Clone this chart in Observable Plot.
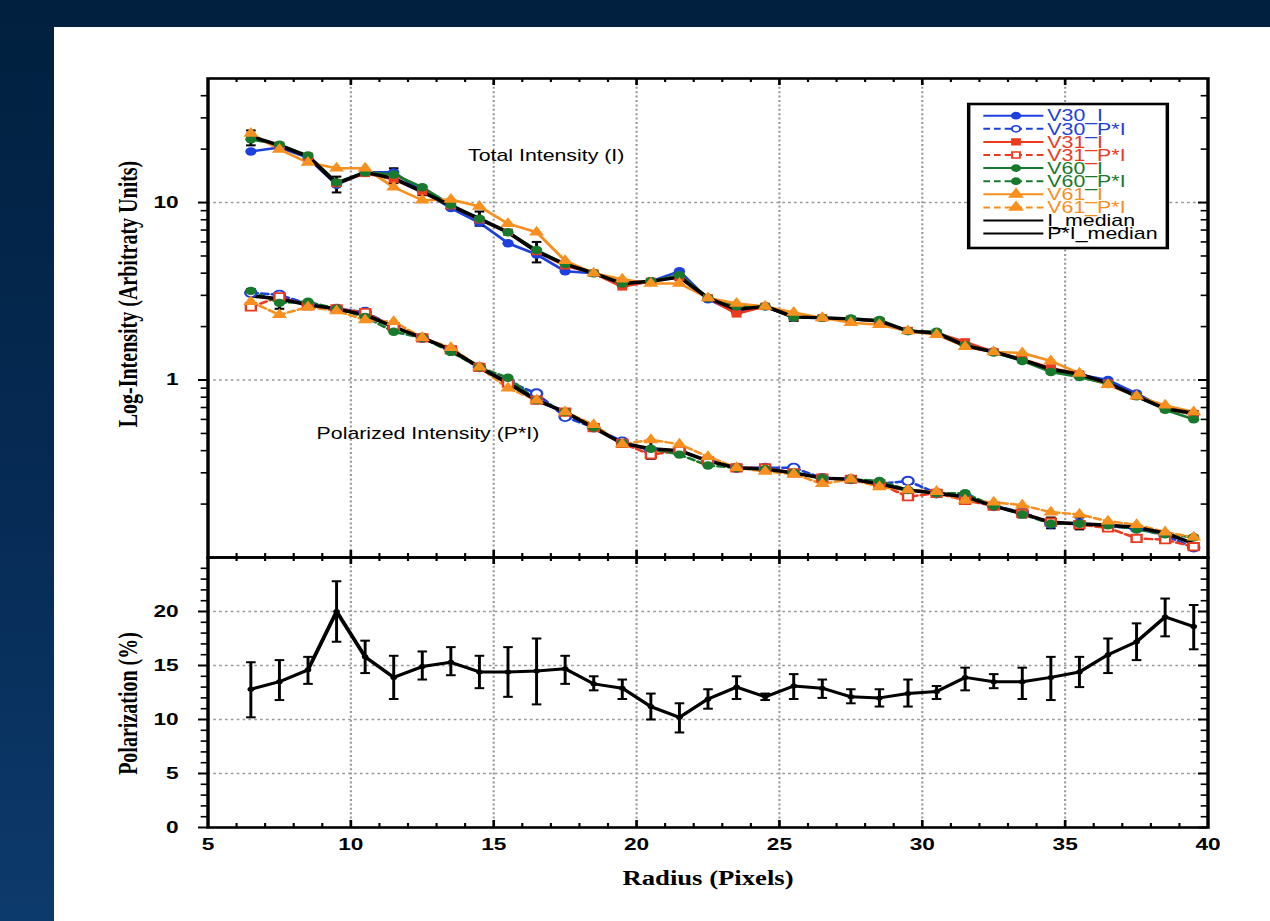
<!DOCTYPE html>
<html><head><meta charset="utf-8">
<script src="https://cdn.jsdelivr.net/npm/d3@7"></script>
<script src="https://cdn.jsdelivr.net/npm/@observablehq/plot@0.6"></script>
<style>
html,body{margin:0;padding:0;}
body{width:1270px;height:921px;overflow:hidden;position:relative;
  background:linear-gradient(180deg,#01203f 0%,#062b55 55%,#0d3a6c 100%);
  font-family:"Liberation Sans",Arial,sans-serif;}
#panel{position:absolute;left:54px;top:27px;width:1216px;height:894px;background:#fff;}
#stage{position:absolute;left:54px;top:27px;width:912px;height:894px;transform:scaleX(1.3333333);transform-origin:0 0;}
#top,#bottom{position:absolute;left:0;}
#top{top:0px;}
#bottom{top:528px;}
#legend{position:absolute;left:680px;top:70px;}
</style></head><body>
<div id="panel"></div>
<div id="stage"><div id="top"></div><div id="bottom"></div><svg id="legend"></svg></div>
<script>
// ---------------- DATA ----------------
const radius = [6.5,7.5,8.5,9.5,10.5,11.5,12.5,13.5,14.5,15.5,16.5,17.5,18.5,19.5,20.5,21.5,22.5,23.5,24.5,25.5,26.5,27.5,28.5,29.5,30.5,31.5,32.5,33.5,34.5,35.5,36.5,37.5,38.5,39.5];

const V30_I  = [19.4,20.4,17.9,12.6,14.8,14.8,11.6,9.3,7.7,5.9,5.1,4.1,4.0,3.4,3.6,4.1,2.85,2.4,2.6,2.24,2.24,2.2,2.15,1.89,1.84,1.58,1.45,1.30,1.14,1.07,1.0,0.84,0.69,0.64];
const V31_I  = [23.6,21.0,18.2,12.8,14.6,13.5,11.5,9.6,8.0,6.8,5.3,4.4,4.0,3.35,3.6,3.8,2.9,2.36,2.6,2.25,2.24,2.2,2.15,1.9,1.84,1.64,1.44,1.31,1.17,1.08,0.96,0.81,0.69,0.64];
const V60_I  = [22.7,21.2,18.4,13.0,14.8,14.4,12.2,9.7,8.1,6.8,5.4,4.5,4.0,3.5,3.6,3.9,2.9,2.6,2.6,2.25,2.24,2.22,2.18,1.89,1.87,1.57,1.43,1.28,1.11,1.04,0.95,0.81,0.68,0.60];
const V61_I  = [24.5,19.9,16.8,15.6,15.6,12.2,10.3,10.4,9.5,7.6,6.8,4.7,4.0,3.7,3.5,3.5,2.9,2.7,2.6,2.4,2.24,2.1,2.05,1.89,1.8,1.54,1.44,1.42,1.28,1.09,0.94,0.81,0.72,0.66];
const I_median = [23.6,21.0,18.2,12.8,14.8,13.7,11.5,9.6,8.1,6.8,5.3,4.5,4.0,3.5,3.6,3.8,2.9,2.5,2.6,2.27,2.24,2.21,2.15,1.89,1.84,1.56,1.44,1.30,1.15,1.08,0.96,0.81,0.69,0.65];
const I_err_lo = [21,null,null,11.4,null,12.9,11.0,null,7.4,null,4.6,null,null,null,null,3.65,null,2.4,null,2.15,null,null,2.08,null,null,null,null,1.26,1.12,null,null,null,0.67,0.62];
const I_err_hi = [25.5,null,null,14.0,null,15.6,12.4,null,8.9,null,6.0,null,null,null,null,4.0,null,2.6,null,2.36,null,null,2.22,null,null,null,null,1.34,1.19,null,null,null,0.71,0.67];

const V30_PI = [3.1,3.02,2.68,2.52,2.42,1.99,1.73,1.48,1.18,0.98,0.84,0.62,0.54,0.45,0.40,0.40,0.35,0.32,0.32,0.32,0.28,0.276,0.26,0.27,0.23,0.22,0.195,0.18,0.155,0.155,0.15,0.146,0.133,0.114];
const V31_PI = [2.58,2.94,2.62,2.52,2.40,1.99,1.73,1.48,1.18,0.96,0.77,0.66,0.54,0.44,0.38,0.40,0.35,0.32,0.32,0.30,0.28,0.276,0.26,0.22,0.23,0.21,0.195,0.177,0.158,0.153,0.147,0.128,0.126,0.115];
const V60_PI = [3.18,2.72,2.76,2.52,2.27,1.87,1.73,1.44,1.18,1.03,0.77,0.66,0.54,0.44,0.41,0.38,0.33,0.32,0.315,0.30,0.28,0.276,0.27,0.24,0.23,0.23,0.195,0.175,0.155,0.155,0.152,0.144,0.135,0.13];
const V61_PI = [2.76,2.33,2.58,2.45,2.18,2.13,1.73,1.52,1.18,0.90,0.77,0.66,0.56,0.435,0.46,0.435,0.37,0.32,0.305,0.295,0.26,0.276,0.25,0.24,0.235,0.21,0.205,0.197,0.18,0.175,0.16,0.153,0.139,0.13];
const PI_median = [2.98,2.87,2.65,2.52,2.33,1.99,1.73,1.48,1.18,0.96,0.77,0.66,0.54,0.44,0.41,0.40,0.35,0.32,0.315,0.30,0.28,0.276,0.26,0.24,0.23,0.22,0.195,0.177,0.158,0.155,0.152,0.148,0.137,0.12];
const PI_err_lo = [2.65,2.52,null,null,null,null,null,null,null,null,null,null,null,null,0.36,0.38,null,null,null,null,null,null,null,0.22,null,null,null,0.168,0.146,0.144,null,null,null,null];
const PI_err_hi = [3.26,3.1,null,null,null,null,null,null,null,null,null,null,null,null,0.45,0.42,null,null,null,null,null,null,null,0.26,null,null,null,0.186,0.168,0.168,null,null,null,null];

const polarization = [12.8,13.5,14.6,20.0,15.8,13.9,14.9,15.3,14.4,14.4,14.5,14.7,13.3,12.9,11.2,10.2,11.9,13.0,12.1,13.1,12.9,12.1,12.0,12.4,12.6,13.9,13.5,13.5,13.9,14.4,16.0,17.2,19.5,18.6];
const pol_hi = [15.3,15.5,15.8,22.8,17.3,15.9,16.3,16.7,15.9,16.7,17.5,15.9,14.0,13.7,12.4,11.5,12.8,14.0,12.4,14.2,13.7,12.8,12.8,13.7,13.1,14.8,14.2,14.8,15.8,15.8,17.5,18.9,21.2,20.6];
const pol_lo = [10.2,11.8,13.3,17.2,14.3,11.9,13.7,14.1,12.9,12.1,11.4,13.3,12.7,11.9,10.0,8.8,11.0,11.9,11.8,11.9,12.0,11.5,11.2,11.2,11.9,12.7,12.9,11.9,11.8,13.0,14.3,15.5,17.7,16.5];

const xTickLabels = [5,10,15,20,25,30,35,40];
const topYTickLabels = [1,10];
const polYTickLabels = [0,5,10,15,20];
const legendNames = ["V30_I","V30_P*I","V31_I","V31_P*I","V60_I","V60_P*I","V61_I","V61_P*I","I_median","P*I_median"];
const annotations = [
  {text:"Total Intensity (I)", x:14.1, y:18.3},
  {text:"Polarized Intensity (P*I)", x:8.8, y:0.5}
];
const yTitleTop = "Log-Intensity (Arbitraty Units)";
const yTitleBottom = "Polarization (%)";
const xTitle = "Radius (Pixels)";

// ---------------- STYLES ----------------
const blue="#1e40dc", red="#ec3a1f", green="#187a2c", orange="#f7901f";
const series = [
  {values:V30_I,  color:blue,   dash:null,  symbol:"circle",   open:false},
  {values:V30_PI, color:blue,   dash:"5,3", symbol:"circle",   open:true},
  {values:V31_I,  color:red,    dash:null,  symbol:"square",   open:false},
  {values:V31_PI, color:red,    dash:"5,3", symbol:"square",   open:true},
  {values:V60_I,  color:green,  dash:null,  symbol:"circle",   open:false},
  {values:V60_PI, color:green,  dash:"5,3", symbol:"circle",   open:false},
  {values:V61_I,  color:orange, dash:null,  symbol:"triangle", open:false},
  {values:V61_PI, color:orange, dash:"5,3", symbol:"triangle", open:false}
];
const sans = "'Liberation Sans', Arial, Helvetica, sans-serif";
const serif = "'Liberation Serif', 'Times New Roman', serif";
const W = 912, ML = 115, MR = 47, FW = W - ML - MR;
const gridStyle = {stroke:"#999", strokeOpacity:1, strokeWidth:1.6, strokeDasharray:"2,2.4"};
const svgStyle = `overflow: visible; background: transparent; max-width: none; font-family: ${sans}; color: black;`;

const rowsOf = vals => radius.map((r,i) => ({r, v: vals[i]}));
const errRows = (lo, hi) => radius.map((r,i) => ({r, lo: lo[i], hi: hi[i]})).filter(d => d.lo != null && d.hi != null);
const capSymbol = {draw(ctx, size){ const w = Math.sqrt(size/Math.PI); ctx.moveTo(-w,0); ctx.lineTo(w,0); }};

const xMinor = d3.range(6, 40).filter(d => d % 5 !== 0);
const xInner = xTickLabels.filter(d => d > 5 && d < 40);
const topMinor = [];
[0.1,1,10].forEach(dec => d3.range(2,10).forEach(m => { const v = m*dec; if (v < 50) topMinor.push(+v.toPrecision(3)); }));
const polMinor = d3.range(1, 26).filter(d => d % 5 !== 0);

function errorMarks(lo, hi) {
  const rows = errRows(lo, hi);
  return [
    Plot.ruleX(rows, {x:"r", y1:"lo", y2:"hi", stroke:"black", strokeWidth:2.2}),
    Plot.dot(rows, {x:"r", y:"lo", symbol:capSymbol, r:3.6, fill:"none", stroke:"black", strokeWidth:2}),
    Plot.dot(rows, {x:"r", y:"hi", symbol:capSymbol, r:3.6, fill:"none", stroke:"black", strokeWidth:2})
  ];
}

// ---------------- TOP PANEL ----------------
const topFH = 479;
const topPlot = Plot.plot({
  width: W, height: 530, marginLeft: ML, marginRight: MR, marginTop: 51, marginBottom: 0,
  style: svgStyle,
  x: {domain: [5, 40], axis: null},
  y: {type: "log", domain: [0.1, 50]},
  marks: [
    Plot.gridX(xInner, gridStyle),
    Plot.gridY(topYTickLabels, gridStyle),
    ...series.map(s => Plot.line(rowsOf(s.values), {x:"r", y:"v", stroke:s.color, strokeWidth:2.5, ...(s.dash ? {strokeDasharray:s.dash} : {})})),
    Plot.line(rowsOf(I_median), {x:"r", y:"v", stroke:"black", strokeWidth:3.4}),
    Plot.line(rowsOf(PI_median), {x:"r", y:"v", stroke:"black", strokeWidth:3.4}),
    ...errorMarks(I_err_lo, I_err_hi),
    ...errorMarks(PI_err_lo, PI_err_hi),
    ...series.map(s => Plot.dot(rowsOf(s.values), {x:"r", y:"v", symbol:s.symbol, r:4.2,
        fill: s.open ? "white" : s.color, stroke: s.open ? s.color : "none", strokeWidth: 1.8})),
    Plot.text(annotations, {x:"x", y:"y", text:"text", textAnchor:"start", lineAnchor:"middle", fontSize:16, fontFamily:sans, fill:"black"}),
    Plot.frame({stroke:"black", strokeWidth:2.6}),
    Plot.axisY(topYTickLabels, {anchor:"left", tickSize:7, tickPadding:15, strokeWidth:2, fontSize:17, fontWeight:"bold", fontFamily:sans, tickFormat:d => String(d), label:null}),
    Plot.axisY(topMinor, {anchor:"left", tickSize:5, strokeWidth:1.6, fill:"none", label:null}),
    Plot.tickY(topYTickLabels, {y:d => d, insetLeft:FW-7, strokeWidth:2}),
    Plot.tickY(topMinor, {y:d => d, insetLeft:FW-5, strokeWidth:1.6}),
    Plot.tickX(xInner, {x:d => d, insetBottom:topFH-7, strokeWidth:2}),
    Plot.tickX(xMinor, {x:d => d, insetBottom:topFH-4, strokeWidth:1.6}),
    Plot.tickX(xInner, {x:d => d, insetTop:topFH-7, strokeWidth:2}),
    Plot.tickX(xMinor, {x:d => d, insetTop:topFH-4, strokeWidth:1.6}),
    Plot.text([yTitleTop], {frameAnchor:"left", text:d => d, rotate:-90, textAnchor:"middle", lineAnchor:"middle", dx:-60, dy:-24, fontSize:20, fontWeight:"bold", fontFamily:serif, fill:"black"})
  ]
});
document.getElementById("top").appendChild(topPlot);

// ---------------- BOTTOM PANEL ----------------
const botFH = 270;
const polRows = radius.map((r,i) => ({r, v: polarization[i]}));
const botPlot = Plot.plot({
  width: W, height: 366, marginLeft: ML, marginRight: MR, marginTop: 2, marginBottom: 94,
  style: svgStyle,
  x: {domain: [5, 40]},
  y: {domain: [0, 25]},
  marks: [
    Plot.gridX(xInner, gridStyle),
    Plot.gridY(polYTickLabels.filter(d => d > 0), gridStyle),
    ...errorMarks(pol_lo, pol_hi),
    Plot.line(polRows, {x:"r", y:"v", stroke:"black", strokeWidth:3}),
    Plot.dot(polRows, {x:"r", y:"v", r:2.5, fill:"black"}),
    Plot.frame({stroke:"black", strokeWidth:2.6}),
    Plot.axisY(polYTickLabels, {anchor:"left", tickSize:7, tickPadding:15, strokeWidth:2, fontSize:17, fontWeight:"bold", fontFamily:sans, tickFormat:d => String(d), label:null}),
    Plot.axisY(polMinor, {anchor:"left", tickSize:5, strokeWidth:1.6, fill:"none", label:null}),
    Plot.tickY(polYTickLabels, {y:d => d, insetLeft:FW-7, strokeWidth:2}),
    Plot.tickY(polMinor, {y:d => d, insetLeft:FW-5, strokeWidth:1.6}),
    Plot.tickX(xInner, {x:d => d, insetBottom:botFH-7, strokeWidth:2}),
    Plot.tickX(xMinor, {x:d => d, insetBottom:botFH-4, strokeWidth:1.6}),
    Plot.tickX(xInner, {x:d => d, insetTop:botFH-7, strokeWidth:2}),
    Plot.tickX(xMinor, {x:d => d, insetTop:botFH-4, strokeWidth:1.6}),
    Plot.axisX(xTickLabels, {anchor:"bottom", tickSize:0, tickPadding:10, fontSize:17, fontWeight:"bold", fontFamily:sans, tickFormat:d => String(d), label:null}),
    Plot.text([yTitleBottom], {frameAnchor:"left", text:d => d, rotate:-90, textAnchor:"middle", lineAnchor:"middle", dx:-60, dy:11, fontSize:20, fontWeight:"bold", fontFamily:serif, fill:"black"}),
    Plot.text([xTitle], {frameAnchor:"bottom", text:d => d, textAnchor:"middle", dy:51, lineAnchor:"middle", fontSize:20, fontWeight:"bold", fontFamily:serif, fill:"black"})
  ]
});
document.getElementById("bottom").appendChild(botPlot);

// ---------------- LEGEND ----------------
const legendStyles = [
  ...series.map(s => ({color:s.color, dash:s.dash, symbol:s.symbol, open:s.open})),
  {color:"black", dash:null, symbol:null},
  {color:"black", dash:null, symbol:null}
];
const symMap = {circle:[d3.symbolCircle, 30], square:[d3.symbolSquare, 34], triangle:[d3.symbolTriangle, 38]};
const lg = d3.select("#legend").attr("width", 170).attr("height", 160);
lg.append("rect").attr("x", 6).attr("y", 7).attr("width", 149).attr("height", 144)
  .attr("fill", "#fff").attr("stroke", "#000").attr("stroke-width", 2.6);
legendNames.forEach((name, i) => {
  const st = legendStyles[i];
  const y = 18.7 + i * 13.1;
  lg.append("line").attr("x1", 17).attr("x2", 62).attr("y1", y).attr("y2", y)
    .attr("stroke", st.color).attr("stroke-width", 2).attr("stroke-dasharray", st.dash);
  if (st.symbol) {
    const [t, a] = symMap[st.symbol];
    lg.append("path").attr("transform", `translate(41.5,${y})`).attr("d", d3.symbol(t, a)())
      .attr("fill", st.open ? "#fff" : st.color).attr("stroke", st.color).attr("stroke-width", 1.5);
  }
  lg.append("text").attr("x", 65).attr("y", y).attr("dy", "0.36em").attr("fill", st.color)
    .style("font-family", sans).style("font-size", "16px").text(name);
});
</script>
</body></html>
